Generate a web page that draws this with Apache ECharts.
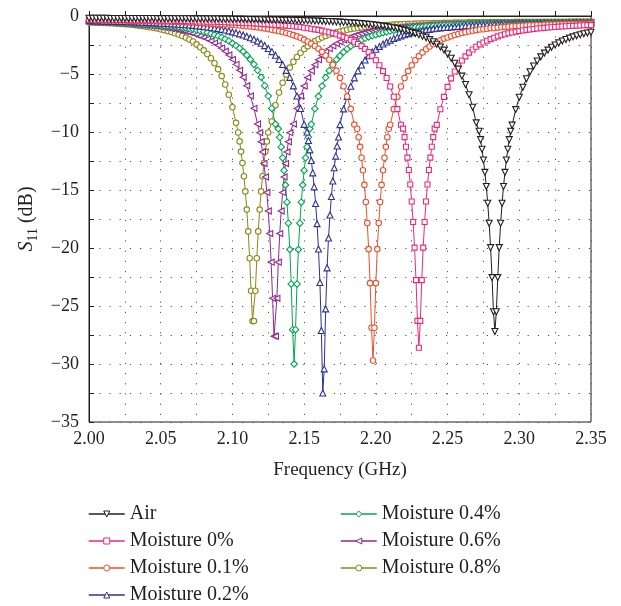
<!DOCTYPE html>
<html><head><meta charset="utf-8">
<script src="https://cdn.jsdelivr.net/npm/echarts@6/dist/echarts.min.js"></script>
<style>html,body{margin:0;padding:0;background:#fff}#c{width:621px;height:606px}</style>
</head><body><div id="c"></div>
<script>
// Frequency sweep (GHz)
const freq = [
2.0000,2.0025,2.0050,2.0075,2.0100,2.0125,2.0150,2.0175,2.0200,2.0225,
2.0250,2.0275,2.0300,2.0325,2.0350,2.0375,2.0400,2.0425,2.0450,2.0475,
2.0500,2.0525,2.0550,2.0575,2.0600,2.0625,2.0650,2.0675,2.0700,2.0725,
2.0750,2.0775,2.0800,2.0825,2.0850,2.0875,2.0900,2.0925,2.0950,2.0975,
2.1000,2.1025,2.1050,2.1075,2.1100,2.1125,2.1150,2.1175,2.1200,2.1225,
2.1250,2.1275,2.1300,2.1325,2.1350,2.1375,2.1400,2.1425,2.1450,2.1475,
2.1500,2.1525,2.1550,2.1575,2.1600,2.1625,2.1650,2.1675,2.1700,2.1725,
2.1750,2.1775,2.1800,2.1825,2.1850,2.1875,2.1900,2.1925,2.1950,2.1975,
2.2000,2.2025,2.2050,2.2075,2.2100,2.2125,2.2150,2.2175,2.2200,2.2225,
2.2250,2.2275,2.2300,2.2325,2.2350,2.2375,2.2400,2.2425,2.2450,2.2475,
2.2500,2.2525,2.2550,2.2575,2.2600,2.2625,2.2650,2.2675,2.2700,2.2725,
2.2750,2.2775,2.2800,2.2825,2.2850,2.2875,2.2900,2.2925,2.2950,2.2975,
2.3000,2.3025,2.3050,2.3075,2.3100,2.3125,2.3150,2.3175,2.3200,2.3225,
2.3250,2.3275,2.3300,2.3325,2.3350,2.3375,2.3400,2.3425,2.3450,2.3475,
2.3500];

// S11 (dB) on the sweep; null where the fine dip samples take over
const air = [
-0.20,-0.20,-0.20,-0.20,-0.20,-0.20,-0.21,-0.21,-0.21,-0.21,
-0.21,-0.21,-0.21,-0.22,-0.22,-0.22,-0.22,-0.22,-0.22,-0.23,
-0.23,-0.23,-0.23,-0.23,-0.24,-0.24,-0.24,-0.24,-0.24,-0.25,
-0.25,-0.25,-0.25,-0.26,-0.26,-0.26,-0.26,-0.27,-0.27,-0.27,
-0.28,-0.29,-0.29,-0.29,-0.30,-0.30,-0.31,-0.31,-0.32,-0.33,
-0.33,-0.34,-0.34,-0.35,-0.36,-0.36,-0.37,-0.37,-0.38,-0.39,
-0.40,-0.41,-0.42,-0.43,-0.44,-0.46,-0.47,-0.48,-0.50,-0.51,
-0.53,-0.55,-0.57,-0.59,-0.61,-0.64,-0.66,-0.69,-0.72,-0.75,
-0.79,-0.83,-0.87,-0.92,-0.97,-1.02,-1.08,-1.15,-1.22,-1.30,
-1.41,-1.51,-1.62,-1.74,-1.88,-2.04,-2.22,-2.43,-2.67,-2.94,
-3.28,-3.64,-4.07,-4.58,-5.18,-5.91,-6.79,-7.86,-9.21,null,
null,null,null,null,null,null,null,null,-9.41,-8.07,
-7.01,-6.14,-5.41,-4.81,-4.31,-3.88,-3.52,-3.20,-2.94,-2.70,
-2.50,-2.32,-2.16,-2.02,-1.91,-1.80,-1.70,-1.61,-1.53,-1.47,
-1.40];
const m00 = [
-0.31,-0.31,-0.32,-0.32,-0.33,-0.33,-0.33,-0.34,-0.34,-0.34,
-0.35,-0.35,-0.36,-0.36,-0.37,-0.37,-0.38,-0.38,-0.38,-0.39,
-0.40,-0.40,-0.41,-0.41,-0.42,-0.42,-0.43,-0.44,-0.45,-0.46,
-0.47,-0.48,-0.48,-0.49,-0.50,-0.50,-0.51,-0.52,-0.54,-0.55,
-0.56,-0.57,-0.59,-0.60,-0.62,-0.63,-0.64,-0.66,-0.68,-0.70,
-0.72,-0.74,-0.76,-0.78,-0.81,-0.83,-0.86,-0.89,-0.92,-0.95,
-1.01,-1.05,-1.10,-1.15,-1.20,-1.26,-1.33,-1.40,-1.48,-1.57,
-1.69,-1.80,-1.92,-2.06,-2.22,-2.40,-2.60,-2.84,-3.11,-3.43,
-3.81,-4.24,-4.75,-5.35,-6.08,-6.96,-8.03,-9.38,null,null,
null,null,null,null,null,null,null,-9.39,-8.04,-6.97,
-6.11,-5.38,-4.78,-4.27,-3.84,-3.48,-3.16,-2.89,-2.65,-2.45,
-2.29,-2.13,-1.99,-1.87,-1.76,-1.66,-1.57,-1.49,-1.42,-1.35,
-1.30,-1.25,-1.20,-1.16,-1.12,-1.08,-1.05,-1.02,-0.99,-0.97,
-0.95,-0.92,-0.90,-0.88,-0.86,-0.85,-0.83,-0.82,-0.80,-0.79,
-0.79];
const m01 = [
-0.34,-0.34,-0.35,-0.35,-0.36,-0.36,-0.37,-0.38,-0.38,-0.39,
-0.39,-0.40,-0.41,-0.42,-0.42,-0.43,-0.44,-0.44,-0.45,-0.46,
-0.47,-0.48,-0.48,-0.49,-0.50,-0.51,-0.52,-0.53,-0.55,-0.56,
-0.58,-0.60,-0.61,-0.62,-0.64,-0.65,-0.67,-0.69,-0.71,-0.73,
-0.77,-0.80,-0.82,-0.85,-0.88,-0.91,-0.94,-0.98,-1.02,-1.07,
-1.13,-1.18,-1.24,-1.31,-1.38,-1.46,-1.55,-1.65,-1.76,-1.88,
-2.04,-2.20,-2.38,-2.58,-2.82,-3.09,-3.41,-3.77,-4.20,-4.71,
-5.33,-6.06,-6.94,-8.01,-9.36,null,null,null,null,null,
null,null,null,null,-9.38,-8.03,-6.96,-6.08,-5.35,-4.75,
-4.25,-3.82,-3.46,-3.14,-2.87,-2.63,-2.43,-2.25,-2.09,-1.95,
-1.85,-1.74,-1.64,-1.55,-1.47,-1.40,-1.33,-1.27,-1.22,-1.17,
-1.14,-1.10,-1.06,-1.03,-1.00,-0.97,-0.94,-0.92,-0.89,-0.87,
-0.86,-0.84,-0.82,-0.80,-0.79,-0.78,-0.77,-0.76,-0.74,-0.74,
-0.73,-0.72,-0.71,-0.70,-0.70,-0.69,-0.69,-0.68,-0.68,-0.68,
-0.67];
const m02 = [
-0.40,-0.40,-0.41,-0.42,-0.43,-0.43,-0.44,-0.45,-0.46,-0.47,
-0.48,-0.49,-0.50,-0.51,-0.52,-0.54,-0.55,-0.57,-0.58,-0.59,
-0.62,-0.63,-0.65,-0.67,-0.69,-0.71,-0.73,-0.76,-0.78,-0.81,
-0.84,-0.87,-0.91,-0.95,-0.99,-1.04,-1.09,-1.15,-1.21,-1.28,
-1.37,-1.45,-1.54,-1.64,-1.75,-1.87,-2.01,-2.17,-2.35,-2.55,
-2.80,-3.07,-3.39,-3.75,-4.18,-4.69,-5.29,-6.02,-6.90,-7.97,
-9.34,null,null,null,null,null,null,null,null,null,
-9.36,-8.01,-6.94,-6.06,-5.33,-4.73,-4.22,-3.79,-3.43,-3.11,
-2.86,-2.62,-2.42,-2.24,-2.08,-1.94,-1.82,-1.71,-1.61,-1.52,
-1.45,-1.38,-1.31,-1.25,-1.20,-1.15,-1.10,-1.06,-1.02,-0.99,
-0.98,-0.95,-0.92,-0.90,-0.87,-0.85,-0.83,-0.81,-0.79,-0.77,
-0.77,-0.75,-0.75,-0.74,-0.72,-0.71,-0.70,-0.70,-0.69,-0.68,
-0.67,-0.67,-0.66,-0.66,-0.66,-0.65,-0.65,-0.64,-0.64,-0.64,
-0.63,-0.63,-0.62,-0.62,-0.62,-0.61,-0.61,-0.61,-0.60,-0.60,
-0.60];
const m04 = [
-0.45,-0.45,-0.46,-0.48,-0.49,-0.50,-0.51,-0.52,-0.54,-0.56,
-0.57,-0.58,-0.60,-0.61,-0.63,-0.66,-0.68,-0.70,-0.72,-0.75,
-0.78,-0.81,-0.84,-0.87,-0.90,-0.94,-0.98,-1.03,-1.08,-1.13,
-1.21,-1.28,-1.35,-1.43,-1.52,-1.62,-1.73,-1.85,-1.99,-2.15,
-2.35,-2.55,-2.79,-3.06,-3.38,-3.74,-4.17,-4.68,-5.28,-6.01,
-6.90,-7.97,-9.32,null,null,null,null,null,null,null,
null,null,-9.34,-7.99,-6.92,-6.04,-5.31,-4.71,-4.20,-3.77,
-3.43,-3.11,-2.84,-2.60,-2.40,-2.22,-2.06,-1.92,-1.80,-1.69,
-1.61,-1.52,-1.44,-1.37,-1.30,-1.24,-1.19,-1.14,-1.09,-1.05,
-1.02,-0.99,-0.96,-0.93,-0.90,-0.88,-0.85,-0.83,-0.81,-0.79,
-0.78,-0.77,-0.76,-0.74,-0.73,-0.72,-0.71,-0.70,-0.69,-0.68,
-0.67,-0.66,-0.66,-0.66,-0.65,-0.65,-0.64,-0.64,-0.64,-0.63,
-0.62,-0.62,-0.61,-0.61,-0.61,-0.61,-0.61,-0.60,-0.60,-0.59,
-0.59,-0.59,-0.58,-0.58,-0.58,-0.58,-0.58,-0.58,-0.57,-0.57,
-0.57];
const m06 = [
-0.50,-0.51,-0.52,-0.53,-0.55,-0.56,-0.57,-0.59,-0.60,-0.62,
-0.64,-0.66,-0.69,-0.71,-0.74,-0.77,-0.80,-0.83,-0.86,-0.89,
-0.94,-0.98,-1.03,-1.08,-1.13,-1.19,-1.26,-1.33,-1.41,-1.50,
-1.62,-1.73,-1.85,-1.99,-2.15,-2.33,-2.53,-2.77,-3.04,-3.36,
-3.74,-4.17,-4.68,-5.28,-6.01,-6.89,-7.96,-9.31,null,null,
null,null,null,null,null,null,null,-9.32,-7.97,-6.90,
-6.04,-5.31,-4.71,-4.20,-3.77,-3.41,-3.09,-2.82,-2.58,-2.38,
-2.22,-2.06,-1.92,-1.80,-1.69,-1.59,-1.50,-1.42,-1.35,-1.28,
-1.24,-1.19,-1.14,-1.09,-1.05,-1.01,-0.98,-0.95,-0.92,-0.89,
-0.88,-0.85,-0.83,-0.81,-0.79,-0.77,-0.75,-0.74,-0.72,-0.71,
-0.70,-0.70,-0.69,-0.68,-0.67,-0.66,-0.66,-0.65,-0.64,-0.64,
-0.63,-0.63,-0.63,-0.62,-0.62,-0.61,-0.61,-0.61,-0.60,-0.60,
-0.60,-0.59,-0.59,-0.59,-0.59,-0.58,-0.58,-0.58,-0.58,-0.57,
-0.57,-0.57,-0.57,-0.57,-0.57,-0.56,-0.56,-0.56,-0.56,-0.56,
-0.56];
const m08 = [
-0.56,-0.57,-0.58,-0.59,-0.60,-0.61,-0.62,-0.64,-0.66,-0.68,
-0.70,-0.73,-0.76,-0.79,-0.83,-0.87,-0.92,-0.97,-1.02,-1.08,
-1.15,-1.22,-1.30,-1.39,-1.49,-1.60,-1.72,-1.86,-2.02,-2.20,
-2.45,-2.69,-2.96,-3.28,-3.64,-4.07,-4.58,-5.18,-5.91,-6.79,
-7.86,-9.21,null,null,null,null,null,null,null,null,
null,-9.10,-7.70,-6.60,-5.75,-5.05,-4.45,-3.95,-3.53,-3.17,
-2.85,-2.60,-2.37,-2.17,-2.00,-1.85,-1.72,-1.60,-1.50,-1.41,
-1.33,-1.26,-1.19,-1.13,-1.08,-1.03,-0.99,-0.95,-0.91,-0.88,
-0.85,-0.82,-0.80,-0.78,-0.76,-0.74,-0.72,-0.71,-0.69,-0.68,
-0.67,-0.66,-0.65,-0.64,-0.63,-0.62,-0.61,-0.60,-0.60,-0.59,
-0.58,-0.58,-0.57,-0.57,-0.56,-0.56,-0.55,-0.55,-0.55,-0.54,
-0.54,-0.54,-0.53,-0.53,-0.53,-0.52,-0.52,-0.52,-0.52,-0.51,
-0.51,-0.51,-0.51,-0.50,-0.50,-0.50,-0.50,-0.50,-0.49,-0.49,
-0.49,-0.49,-0.49,-0.49,-0.48,-0.48,-0.48,-0.48,-0.48,-0.48,
-0.48];

// Fine samples (1 MHz) through each resonance: [GHz, dB]
const airDip = [[2.272,-9.93],[2.273,-10.66],[2.274,-11.49],[2.275,-12.42],[2.276,-13.48],[2.277,-14.70],[2.278,-16.14],[2.279,-17.86],[2.280,-19.97],[2.281,-22.55],[2.282,-25.49],[2.283,-27.2],[2.284,-25.49],[2.285,-22.55],[2.286,-19.97],[2.287,-17.86],[2.288,-16.14],[2.289,-14.70],[2.290,-13.48],[2.291,-12.42],[2.292,-11.49],[2.293,-10.66],[2.294,-9.93]];
const m00Dip = [[2.219,-9.71],[2.220,-10.44],[2.221,-11.27],[2.222,-12.21],[2.223,-13.28],[2.224,-14.52],[2.225,-15.99],[2.226,-17.76],[2.227,-19.97],[2.228,-22.77],[2.229,-26.28],[2.230,-28.6],[2.231,-26.28],[2.232,-22.77],[2.233,-19.97],[2.234,-17.76],[2.235,-15.99],[2.236,-14.52],[2.237,-13.28],[2.238,-12.21],[2.239,-11.27],[2.240,-10.44],[2.241,-9.71]];
const m01Dip = [[2.187,-9.72],[2.188,-10.45],[2.189,-11.28],[2.190,-12.22],[2.191,-13.3],[2.192,-14.56],[2.193,-16.04],[2.194,-17.84],[2.195,-20.1],[2.196,-23.03],[2.197,-26.88],[2.198,-29.7],[2.199,-26.88],[2.200,-23.03],[2.201,-20.1],[2.202,-17.84],[2.203,-16.04],[2.204,-14.56],[2.205,-13.3],[2.206,-12.22],[2.207,-11.28],[2.208,-10.45],[2.209,-9.72]];
const m02Dip = [[2.152,-10.0],[2.153,-10.73],[2.154,-11.54],[2.155,-12.46],[2.156,-13.52],[2.157,-14.73],[2.158,-16.16],[2.159,-17.90],[2.160,-20.08],[2.161,-22.98],[2.162,-27.11],[2.163,-32.5],[2.164,-30.42],[2.165,-25.25],[2.166,-21.71],[2.167,-19.14],[2.168,-17.16],[2.169,-15.56],[2.170,-14.22],[2.171,-13.08],[2.172,-12.08],[2.173,-11.21],[2.174,-10.43]];
const m04Dip = [[2.132,-9.72],[2.133,-10.46],[2.134,-11.29],[2.135,-12.23],[2.136,-13.31],[2.137,-14.57],[2.138,-16.05],[2.139,-17.86],[2.140,-20.13],[2.141,-23.1],[2.142,-27.04],[2.143,-30.0],[2.144,-27.04],[2.145,-23.1],[2.146,-20.13],[2.147,-17.86],[2.148,-16.05],[2.149,-14.57],[2.150,-13.31],[2.151,-12.23],[2.152,-11.29],[2.153,-10.46],[2.154,-9.72]];
const m06Dip = [[2.119,-10.06],[2.120,-10.84],[2.121,-11.72],[2.122,-12.72],[2.123,-13.87],[2.124,-15.21],[2.125,-16.81],[2.126,-18.76],[2.127,-21.22],[2.128,-24.34],[2.129,-27.6],[2.130,-27.6],[2.131,-24.34],[2.132,-21.22],[2.133,-18.76],[2.134,-16.81],[2.135,-15.21],[2.136,-13.87],[2.137,-12.72],[2.138,-11.72],[2.139,-10.84],[2.140,-10.06]];
const m08Dip = [[2.104,-10.04],[2.105,-10.81],[2.106,-11.69],[2.107,-12.67],[2.108,-13.81],[2.109,-15.12],[2.110,-16.69],[2.111,-18.57],[2.112,-20.89],[2.113,-23.68],[2.114,-26.3],[2.115,-26.3],[2.116,-23.68],[2.117,-20.89],[2.118,-18.57],[2.119,-16.69],[2.120,-15.12],[2.121,-13.81],[2.122,-12.67],[2.123,-11.69],[2.124,-10.81],[2.125,-10.04]];

const names = ['Air','Moisture 0%','Moisture 0.1%','Moisture 0.2%','Moisture 0.4%','Moisture 0.6%','Moisture 0.8%'];
const xTicks = {min:2.0, max:2.35, interval:0.05};
const yTicks = {min:-35, max:0, interval:5};

const FONT = '"Liberation Serif","Times New Roman",serif';
const INK = '#231f20';

function build(vals, dip){
  const d = [];
  vals.forEach((v,i)=>{ if(v!==null) d.push([freq[i], v]); });
  dip.forEach(p=>d.push(p));
  d.sort((a,b)=>a[0]-b[0]);
  return d;
}
const defs = [
  {name:names[0], vals:air, dip:airDip, color:'#231f20', symbol:'triangle', rot:180, size:6},
  {name:names[1], vals:m00, dip:m00Dip, color:'#ec297b', symbol:'rect', rot:0, size:5},
  {name:names[2], vals:m01, dip:m01Dip, color:'#f04e2b', symbol:'circle', rot:0, size:5.5},
  {name:names[3], vals:m02, dip:m02Dip, color:'#2e3192', symbol:'triangle', rot:0, size:6},
  {name:names[4], vals:m04, dip:m04Dip, color:'#00a651', symbol:'diamond', rot:0, size:6.5},
  {name:names[5], vals:m06, dip:m06Dip, color:'#92278f', symbol:'triangle', rot:90, size:6},
  {name:names[6], vals:m08, dip:m08Dip, color:'#8a8a14', symbol:'circle', rot:0, size:5.5}
];
const series = defs.slice().reverse().map(s=>({
  name:s.name, type:'line', data:build(s.vals, s.dip),
  symbol:s.symbol, symbolSize:s.size, symbolRotate:s.rot, showAllSymbol:true,
  lineStyle:{color:s.color, width:1},
  itemStyle:{color:'#ffffff', borderColor:s.color, borderWidth:1.1},
  emphasis:{disabled:true}, animation:false
}));

const dotted = {color:'#555', width:1, type:[1.2,9]};
const legendText = {fontFamily:FONT, fontSize:20, color:INK, lineHeight:20};
const legendCommon = {orient:'vertical', top:504, padding:0, itemWidth:36, itemHeight:7.5, itemGap:7, itemTextGap:8,
  textStyle:legendText, selectedMode:false, lineStyle:{width:1.5}, itemStyle:{borderWidth:1}};
const chart = echarts.init(document.getElementById('c'), null, {renderer:'canvas'});
chart.setOption({
  backgroundColor:'#ffffff',
  animation:false,
  grid:{left:89, right:30, top:16, bottom:184, show:true, borderColor:INK, borderWidth:1, backgroundColor:'transparent'},
  xAxis:{
    type:'value', min:xTicks.min, max:xTicks.max, interval:xTicks.interval,
    name:'Frequency (GHz)', nameLocation:'middle', nameGap:39,
    nameTextStyle:{fontFamily:FONT, fontSize:19, color:INK},
    axisLine:{show:true, lineStyle:{color:INK, width:1}},
    axisTick:{show:true, inside:true, length:5, lineStyle:{color:INK}},
    minorTick:{show:true, splitNumber:2, length:5, lineStyle:{color:INK}},
    axisLabel:{fontFamily:FONT, fontSize:18, color:INK, margin:8, formatter:v=>v.toFixed(2)},
    splitLine:{show:true, lineStyle:dotted},
    minorSplitLine:{show:true, lineStyle:dotted}
  },
  yAxis:{
    type:'value', min:yTicks.min, max:yTicks.max, interval:yTicks.interval,
    name:'{i|S}{s|11}{n| (dB)}', nameLocation:'middle', nameGap:47,
    nameTextStyle:{rich:{
      i:{fontFamily:FONT, fontStyle:'italic', fontSize:20, color:INK, lineHeight:26, verticalAlign:'middle'},
      s:{fontFamily:FONT, fontSize:14, color:INK, lineHeight:26, verticalAlign:'bottom'},
      n:{fontFamily:FONT, fontSize:20, color:INK, lineHeight:26, verticalAlign:'middle'}
    }},
    axisLine:{show:true, lineStyle:{color:INK, width:1}},
    axisTick:{show:true, inside:true, length:5, lineStyle:{color:INK}},
    minorTick:{show:true, splitNumber:2, length:5, lineStyle:{color:INK}},
    axisLabel:{fontFamily:FONT, fontSize:18, color:INK, margin:10, formatter:v=> v===0 ? '0' : '\u2212'+Math.abs(v)},
    splitLine:{show:true, lineStyle:dotted},
    minorSplitLine:{show:true, lineStyle:dotted}
  },
  legend:[
    Object.assign({data:names.slice(0,4), left:88}, legendCommon),
    Object.assign({data:names.slice(4), left:340}, legendCommon)
  ],
  series:series
});
</script></body></html>
